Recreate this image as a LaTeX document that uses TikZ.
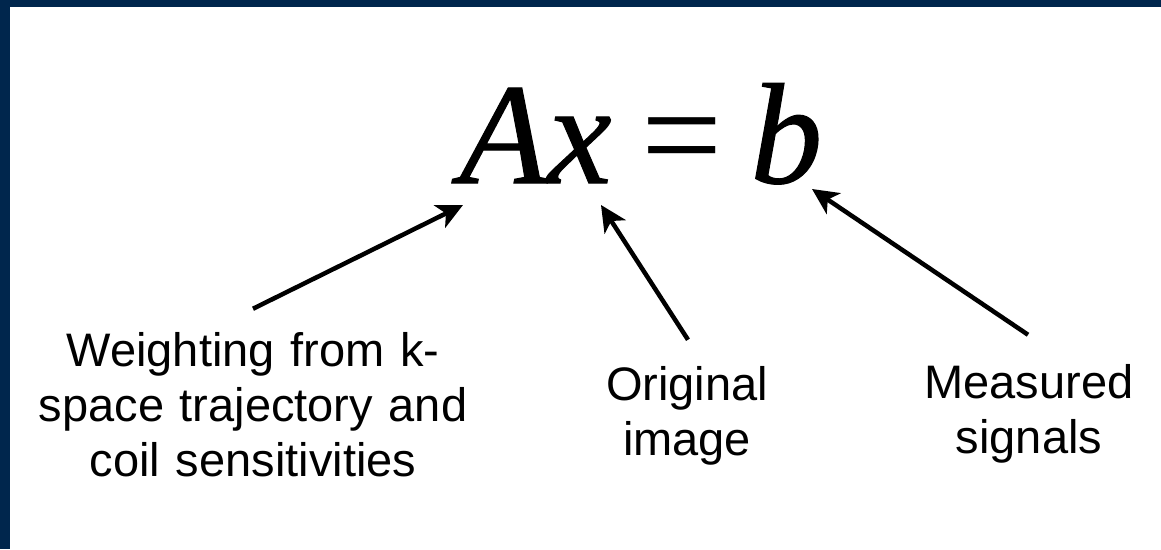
\documentclass[tikz,border=0pt]{standalone}
\usepackage{fontspec}
\usetikzlibrary{arrows.meta}
\newfontfamily\labfont{Liberation Sans}
\newfontfamily\eqfont[ItalicFeatures={FakeBold=0.8}]{Liberation Serif}
\definecolor{navy}{RGB}{0,38,77}
\tikzset{
  lab/.style={font=\labfont\fontsize{47}{55}\selectfont, text width=520pt, align=center, anchor=base, inner sep=0pt},
  arr/.style={line width=4.5pt, -{Stealth[length=26pt,width=25pt,inset=7pt]}},
}
\begin{document}
\begin{tikzpicture}[x=1pt,y=1pt]
\useasboundingbox (0,0) rectangle (1161,-549);
\fill[white] (0,0) rectangle (1161,-549);
\fill[navy] (0,0) rectangle (1161,-7);
\fill[navy] (0,0) rectangle (10,-549);
\node[anchor=base, inner sep=0pt, font=\eqfont\fontsize{144}{150}\selectfont] (eq) at (641,-183) {\textit{Ax}\hspace{0.21em}=\hspace{0.19em}\textit{b}};
\node[lab] (wlab) at (253,-366) {Weighting from k-\\space trajectory and\\coil sensitivities};
\node[lab] (olab) at (687,-400) {Original\\image};
\node[lab] (mlab) at (1029,-398) {Measured\\signals};
\coordinate (h1) at (463,-205);
\coordinate (h2) at (601,-205);
\coordinate (h3) at (812,-189);
\draw[arr] ([shift={(0,23)}]wlab.north) -- (h1);
\draw[arr] ([shift={(1,26)}]olab.north) -- (h2);
\draw[arr] ([shift={(-1,29)}]mlab.north) -- (h3);
\end{tikzpicture}
\end{document}
